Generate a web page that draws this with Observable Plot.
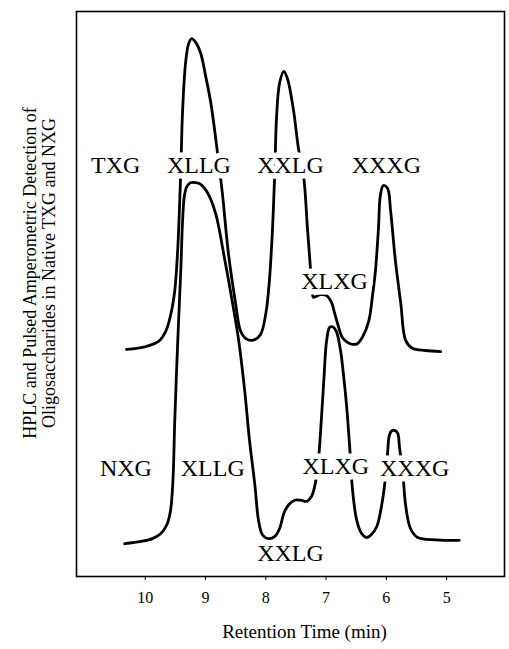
<!DOCTYPE html>
<html>
<head>
<meta charset="utf-8">
<script src="https://cdn.jsdelivr.net/npm/d3@7"></script>
<script src="https://cdn.jsdelivr.net/npm/@observablehq/plot@0.6"></script>
<style>
  html, body { margin: 0; padding: 0; background: #fff; }
  #chart svg { display: block; }
</style>
</head>
<body>
<div id="chart"></div>
<script>
// Retention time (min) and detector response (arbitrary units)
const txgTime = [10.31, 9.99, 9.78, 9.66, 9.58, 9.51, 9.46, 9.41, 9.38, 9.33, 9.28, 9.23, 9.16, 9.08, 9.00, 8.91, 8.80, 8.72, 8.62, 8.50, 8.42, 8.33, 8.22, 8.09, 8.00, 7.94, 7.89, 7.85, 7.82, 7.77, 7.70, 7.64, 7.54, 7.46, 7.37, 7.31, 7.26, 7.23, 7.21, 7.16, 7.09, 6.99, 6.91, 6.86, 6.81, 6.73, 6.64, 6.56, 6.48, 6.39, 6.29, 6.23, 6.18, 6.13, 6.10, 6.05, 5.98, 5.93, 5.85, 5.76, 5.68, 5.57, 5.35, 5.10];
const txgSignal = [40.2, 40.7, 41.6, 43.4, 46.2, 50.6, 58.1, 71.9, 82.5, 91.0, 94.3, 95.2, 94.5, 92.6, 88.7, 83.7, 74.9, 67.8, 57.2, 48.3, 43.5, 42.1, 41.8, 42.8, 46.5, 52.4, 61.2, 71.9, 81.6, 87.4, 89.4, 88.1, 82.5, 75.9, 70.6, 61.8, 54.7, 50.3, 49.4, 49.6, 49.9, 49.7, 48.5, 46.7, 44.8, 42.3, 41.4, 41.1, 41.2, 42.5, 45.3, 49.7, 54.2, 61.8, 67.4, 69.2, 68.7, 64.8, 55.9, 48.3, 41.8, 40.4, 40.0, 39.8];

const nxgTime = [10.34, 10.07, 9.88, 9.74, 9.64, 9.58, 9.54, 9.51, 9.46, 9.41, 9.38, 9.35, 9.31, 9.25, 9.16, 9.08, 8.96, 8.83, 8.70, 8.55, 8.45, 8.35, 8.27, 8.18, 8.12, 8.05, 7.95, 7.85, 7.77, 7.70, 7.62, 7.52, 7.42, 7.32, 7.24, 7.19, 7.16, 7.12, 7.09, 7.04, 6.99, 6.94, 6.89, 6.83, 6.76, 6.71, 6.66, 6.61, 6.56, 6.49, 6.41, 6.33, 6.25, 6.16, 6.10, 6.03, 5.98, 5.95, 5.91, 5.85, 5.81, 5.78, 5.73, 5.68, 5.60, 5.48, 5.18, 4.79];
const nxgSignal = [5.8, 6.2, 6.7, 7.6, 9.2, 11.7, 17.0, 27.6, 41.8, 54.2, 63.0, 67.4, 69.0, 69.7, 69.7, 69.4, 67.8, 64.2, 57.2, 48.3, 41.8, 32.9, 24.1, 16.1, 9.9, 7.3, 6.7, 7.1, 8.5, 11.2, 12.7, 13.5, 13.5, 13.3, 14.2, 15.9, 17.7, 21.4, 25.8, 34.2, 41.8, 44.1, 44.2, 43.4, 40.0, 35.6, 30.3, 23.2, 15.2, 9.9, 7.6, 6.9, 7.4, 8.8, 11.3, 16.1, 21.8, 25.0, 25.8, 25.8, 25.3, 22.7, 18.8, 12.6, 8.5, 6.9, 6.5, 6.4];

// Peak annotations
const labelText = ["TXG", "XLLG", "XXLG", "XXXG", "XLXG", "NXG", "XLLG", "XLXG", "XXXG", "XXLG"];
const labelTime = [10.49, 9.11, 7.59, 6.00, 6.86, 10.32, 8.88, 6.84, 5.53, 7.59];
const labelSignal = [72.7, 72.7, 72.7, 72.7, 52.2, 19.1, 19.1, 19.5, 19.1, 4.1];

const xTicks = [10, 9, 8, 7, 6, 5];
const xTitle = "Retention Time (min)";
const yTitle = "HPLC and Pulsed Amperometric Detection of\nOligosaccharides in Native TXG and NXG";

const txg = txgTime.map((t, i) => ({t, v: txgSignal[i]}));
const nxg = nxgTime.map((t, i) => ({t, v: nxgSignal[i]}));
const labels = labelText.map((s, i) => ({s, t: labelTime[i], v: labelSignal[i]}));

const font = "'Liberation Serif', 'Times New Roman', serif";

const chart = Plot.plot({
  width: 509,
  height: 649,
  marginLeft: 76,
  marginRight: 5,
  marginTop: 11,
  marginBottom: 73,
  style: {fontFamily: font, fontSize: "16px", background: "#fff", color: "#000"},
  x: {domain: [11.14, 4.04], ticks: xTicks, tickFormat: d => String(d), label: null},
  y: {domain: [0, 100], axis: null},
  marks: [
    Plot.line(txg, {x: "t", y: "v", curve: "catmull-rom", stroke: "#000", strokeWidth: 2.8, strokeLinejoin: "round", strokeLinecap: "round"}),
    Plot.line(nxg, {x: "t", y: "v", curve: "catmull-rom", stroke: "#000", strokeWidth: 2.8, strokeLinejoin: "round", strokeLinecap: "round"}),
    Plot.text(labels, {x: "t", y: "v", text: "s", fontSize: 24, fill: "#fff", stroke: "#fff", strokeWidth: 11, strokeLinejoin: "round", fontFamily: font}),
    Plot.text(labels, {x: "t", y: "v", text: "s", fontSize: 24, fill: "#000", fontFamily: font}),
    Plot.frame({stroke: "#000", strokeWidth: 1.6}),
    Plot.axisX({ticks: xTicks, tickSize: 4, tickPadding: 11, fontSize: 16, tickFormat: d => String(d), label: null}),
    Plot.text([xTitle], {frameAnchor: "bottom", dx: 14, dy: 61, fontSize: 19, fill: "#000", fontFamily: font}),
    Plot.text([yTitle], {frameAnchor: "left", rotate: -90, dx: -37, dy: -21, fontSize: 18, lineHeight: 1.05, textAnchor: "middle", fill: "#000", fontFamily: font})
  ]
});
document.getElementById("chart").appendChild(chart);
</script>
</body>
</html>
